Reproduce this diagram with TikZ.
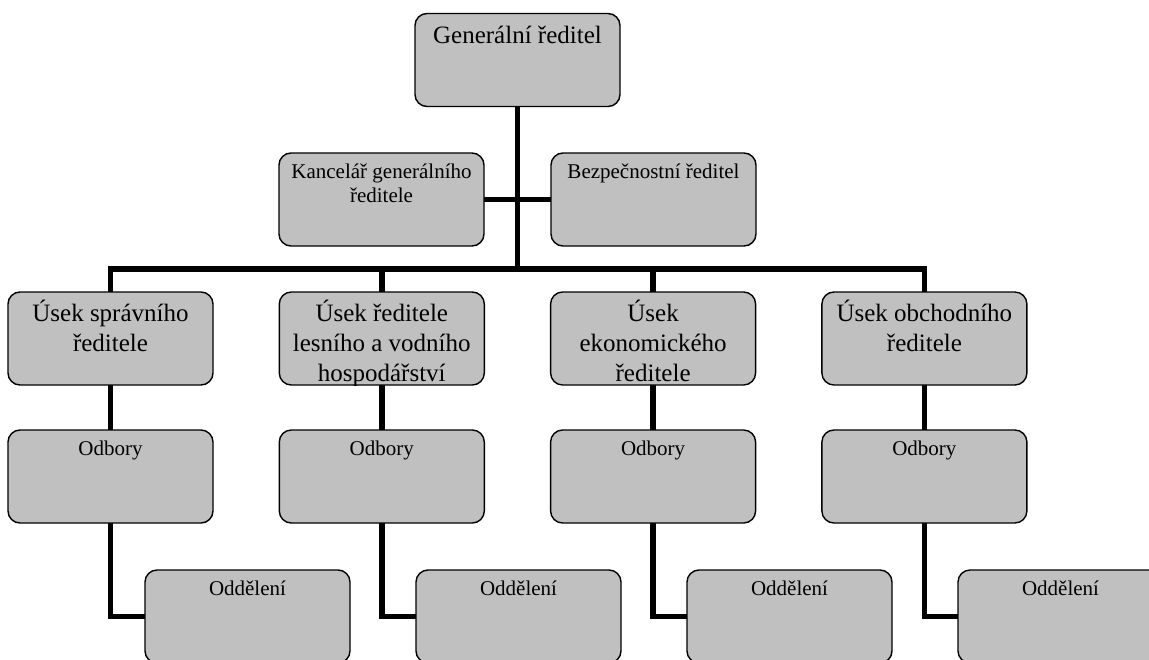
\documentclass[tikz,border=0pt]{standalone}
\usepackage{fontspec}
\setmainfont{Liberation Serif}
\usetikzlibrary{backgrounds}
\definecolor{boxfill}{HTML}{C0C0C0}
\tikzset{
  orgbox/.style={draw=black, line width=1.4pt, fill=boxfill, rounded corners=12pt,
    minimum width=205pt, minimum height=93pt, inner sep=0pt, outer sep=0pt},
  % large caption, clipped to the box outline
  bigbox/.style={orgbox, path picture={
    \node[anchor=base, inner sep=0pt, yshift=-29.5pt] at (path picture bounding box.north)
      {\parbox[t]{200pt}{\centering\fontsize{25}{30}\selectfont #1}};}},
  % small caption, clipped to the box outline
  smallbox/.style={orgbox, path picture={
    \node[anchor=base, inner sep=0pt, yshift=-25.5pt] at (path picture bounding box.north)
      {\parbox[t]{200pt}{\centering\fontsize{21}{24}\selectfont #1}};}},
  conn/.style={draw=black, line width=5.5pt, line join=miter}
}
\begin{document}
\begin{tikzpicture}[x=1pt, y=-1pt]
\useasboundingbox (0,0) rectangle (1149,659);
\clip (0,0) rectangle (1149,659);

\coordinate (bus) at (517.5,269);

% top
\node[bigbox={Generální ředitel}] (gen) at (517.5,60) {};
\node[smallbox={Kancelář generálního\\ředitele}] (kanc) at (381.5,199.5) {};
\node[smallbox={Bezpečnostní ředitel}] (bezp) at (653.5,199.5) {};

% divisions
\node[bigbox={Úsek správního\\ředitele}] (s1) at (110.5,338.5) {};
\node[bigbox={Úsek ředitele\\lesního a vodního\\hospodářství}] (s2) at (381.8,338.5) {};
\node[bigbox={Úsek\\ekonomického\\ředitele}] (s3) at (653.1,338.5) {};
\node[bigbox={Úsek obchodního\\ředitele}] (s4) at (924.4,338.5) {};

% departments
\node[smallbox={Odbory}] (o1) at (110.5,476.5) {};
\node[smallbox={Odbory}] (o2) at (381.8,476.5) {};
\node[smallbox={Odbory}] (o3) at (653.1,476.5) {};
\node[smallbox={Odbory}] (o4) at (924.4,476.5) {};

% sections
\node[smallbox={Oddělení}] (d1) at (247.5,616.5) {};
\node[smallbox={Oddělení}] (d2) at (518.5,616.5) {};
\node[smallbox={Oddělení}] (d3) at (789.5,616.5) {};
\node[smallbox={Oddělení}] (d4) at (1060.5,616.5) {};

% connecting lines, under the boxes
\begin{scope}[on background layer]
\draw[conn] (gen.south) -- (bus);
\draw[conn] (kanc.east) -- (bezp.west);
\draw[conn] (s1.north) |- (bus) -| (s4.north);
\draw[conn] (s2.north) -- (s2.north |- bus);
\draw[conn] (s3.north) -- (s3.north |- bus);
\foreach \i in {1,2,3,4} {
  \draw[conn] (s\i.south) -- (o\i.north);
  \draw[conn] (o\i.south) |- (d\i.west);
}
\end{scope}
\end{tikzpicture}
\end{document}
